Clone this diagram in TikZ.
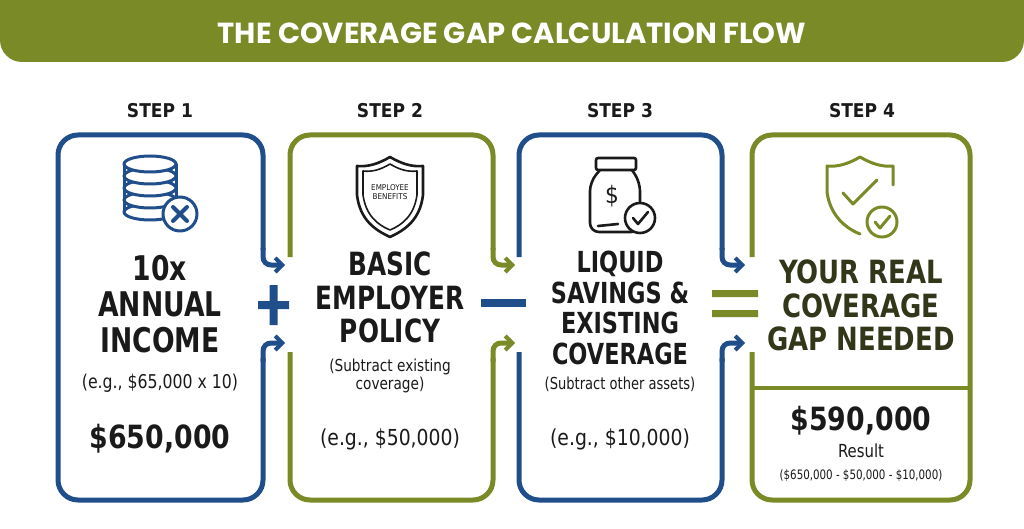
\documentclass[tikz,border=0pt]{standalone}
\usepackage{fontspec}
\setmainfont{DejaVu Sans Condensed}
\newfontfamily\titlef{Poppins}
\usetikzlibrary{arrows.meta}
\definecolor{navy}{HTML}{1F4E8A}
\definecolor{olive}{HTML}{7A8A26}
\definecolor{dolive}{HTML}{33371A}
\definecolor{ink}{HTML}{1A1A1A}
\newcommand{\cond}[3]{\scalebox{#1}[1]{\def\arraystretch{#2}\begin{tabular}{@{}c@{}}#3\end{tabular}}}
\begin{document}
\begin{tikzpicture}[x=1pt,y=-1pt,
  box/.style={line width=5pt,rounded corners=20pt},
  arr/.style={line width=5pt,rounded corners=8pt,-{Straight Barb[length=7pt,width=14pt,line width=4pt]}},
  steplbl/.style={font=\bfseries\fontsize{19}{19}\selectfont,text=ink},
  big/.style={font=\bfseries\fontsize{34}{34}\selectfont,text=ink,align=center},
  small/.style={font=\fontsize{16.5}{17}\selectfont,text=ink,align=center},
  eg/.style={font=\fontsize{22}{22}\selectfont,text=ink},
  money/.style={font=\bfseries\fontsize{32}{32}\selectfont,text=ink},
  icon/.style={line width=2.6pt,line join=round,line cap=round}]
\useasboundingbox (0,0) rectangle (1024,529);
\fill[olive,rounded corners=22pt] (0,-30) rectangle (1024,62);
\node[text=white,font=\titlef\bfseries\fontsize{29}{29}\selectfont] (title) at (512,33) {THE COVERAGE GAP CALCULATION FLOW};
\foreach \i/\x in {1/160,2/390,3/620,4/862}
  \node[steplbl] (s\i) at (\x,111) {STEP \i};
% box 1
\draw[box,navy] (263,250) -- (263,135) -- (58,135) -- (58,500) -- (263,500) -- (263,358);
\draw[arr,navy] (263,248) -- (263,265) -- (285,265);
\draw[arr,navy] (263,362) -- (263,343) -- (285,343);
% box 2
\draw[box,olive] (290,257) -- (290,135) -- (493,135) -- (493,250);
\draw[box,olive] (493,358) -- (493,500) -- (290,500) -- (290,352);
\draw[arr,olive] (493,248) -- (493,265) -- (515,265);
\draw[arr,olive] (493,362) -- (493,343) -- (515,343);
% box 3
\draw[box,navy] (519,257) -- (519,135) -- (722,135) -- (722,250);
\draw[box,navy] (722,358) -- (722,500) -- (519,500) -- (519,352);
\draw[arr,navy] (722,248) -- (722,265) -- (745,265);
\draw[arr,navy] (722,362) -- (722,343) -- (745,343);
% box 4
\draw[box,olive] (752,257) -- (752,135) -- (970,135) -- (970,500) -- (752,500) -- (752,352);
\draw[olive,line width=4pt] (752,388) -- (970,388);
% operators
\fill[navy] (258,301) rectangle (289,309) (269.5,285) rectangle (277.5,325);
\fill[navy] (481,299) rectangle (526,307);
\fill[olive] (712,290) rectangle (758,297) (712,310) rectangle (758,317);
% icon 1: coins
\begin{scope}[navy,icon,line width=3pt,x=1pt,y=1pt]
\foreach \yy in {-212,-200,-188,-176,-164} \draw[fill=white] (150,\yy) ellipse [x radius=26, y radius=8];
\draw (124,-164) -- (124,-212) (176,-164) -- (176,-212);
\draw[fill=white] (180,-214) circle [radius=17];
\draw[line width=4pt] (173,-207) -- (187,-221) (187,-207) -- (173,-221);
\end{scope}
\node (coins) at (150,188) {};
% icon 2: shield
\draw[icon,ink] (390,157) .. controls (378,164) and (368,167) .. (357,166) -- (357,195) .. controls (360,220) and (375,230) .. (390,237) .. controls (405,230) and (420,220) .. (423,195) -- (423,166) .. controls (412,167) and (402,164) .. (390,157) -- cycle;
\draw[icon,ink,line width=1.6pt] (390,164) .. controls (380,170) and (372,172) .. (363,171) -- (363,195) .. controls (366,216) and (378,225) .. (390,230) .. controls (402,225) and (414,216) .. (417,195) -- (417,171) .. controls (408,172) and (400,170) .. (390,164) -- cycle;
\node[font=\fontsize{8}{9.5}\selectfont,align=center,text=ink] (eb) at (390,192) {EMPLOYEE\\BENEFITS};
% icon 3: jar
\begin{scope}[ink,icon]
\draw[rounded corners=2pt] (596,158) rectangle (636,170);
\draw[rounded corners=9pt] (600,170) -- (590,182) -- (590,232) -- (640,232) -- (640,182) -- (632,170);
\draw (598,226) -- (618,224);
\draw[fill=white] (640,218) circle (15);
\draw (633,218) -- (638,224) -- (648,212);
\end{scope}
\node[font=\fontsize{24}{24}\selectfont,text=ink] (dollar) at (612,196) {\$};
% icon 4: shield check
\begin{scope}[olive,icon,line width=3pt]
\draw (860,157) .. controls (848,164) and (838,167) .. (827,166) -- (827,192) .. controls (830,215) and (845,228) .. (860,234);
\draw (860,157) .. controls (872,164) and (882,167) .. (893,166) -- (893,185);
\draw (843,193) -- (853,204) -- (877,180);
\draw[fill=white] (882,222) circle (15);
\draw (875,222) -- (880,228) -- (890,216);
\end{scope}
% texts
\node[big] (t1) at (160,309) {\cond{0.87}{1.05}{10x\\ANNUAL\\INCOME}};
\node[small,font=\fontsize{19}{19}\selectfont] (e1) at (160,384) {\cond{0.92}{1}{(e.g., \$65,000 x 10)}};
\node[money] (m1) at (160,441) {\cond{0.93}{1}{\$650,000}};
\node[big,font=\bfseries\fontsize{32}{32}\selectfont] (t2) at (390,302) {\cond{0.86}{1}{BASIC\\EMPLOYER\\POLICY}};
\node[small] (n2) at (390,377) {\cond{0.92}{1}{(Subtract existing\\coverage)}};
\node[eg] (e2) at (390,440) {\cond{0.95}{1}{(e.g., \$50,000)}};
\node[big,font=\bfseries\fontsize{29}{30}\selectfont] (t3) at (620,312) {\cond{0.86}{1}{LIQUID\\SAVINGS \&\\EXISTING\\COVERAGE}};
\node[small] (n3) at (620,386) {\cond{0.88}{1}{(Subtract other assets)}};
\node[eg] (e3) at (620,440) {\cond{0.95}{1}{(e.g., \$10,000)}};
\node[big,text=dolive,font=\bfseries\fontsize{32}{32}\selectfont] (t4) at (861,310) {\cond{0.9}{1}{YOUR REAL\\COVERAGE\\GAP NEEDED}};
\node[money] (m4) at (861,423) {\cond{0.93}{1}{\$590,000}};
\node[small,font=\fontsize{18}{18}\selectfont] (r4) at (861,453) {\cond{0.92}{1}{Result}};
\node[small,font=\fontsize{13}{13}\selectfont] (f4) at (861,477) {\cond{0.88}{1}{(\$650,000 - \$50,000 - \$10,000)}};
\end{tikzpicture}
\end{document}
